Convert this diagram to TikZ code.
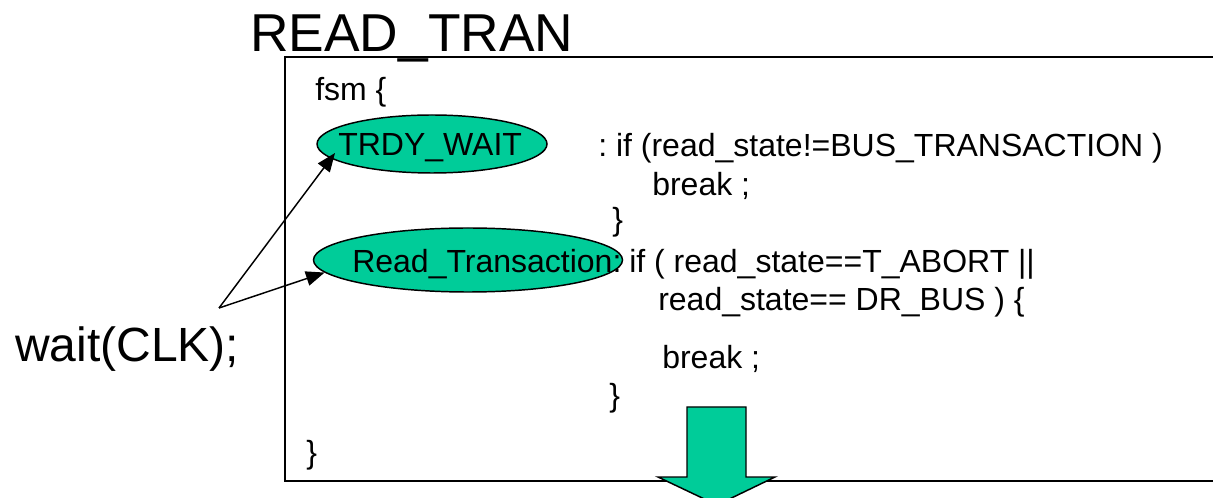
\documentclass[tikz,border=0pt]{standalone}
\usepackage{fontspec}
\setmainfont{Liberation Sans}
\usetikzlibrary{shapes.geometric,arrows.meta,calc}
\definecolor{stategreen}{RGB}{0,204,153}
\tikzset{
  code/.style={anchor=base west, inner sep=0pt, font=\fontsize{24}{28}\selectfont},
  state/.style={ellipse, draw=black, line width=1.1pt, fill=stategreen, inner sep=0pt,
                font=\fontsize{24}{28}\selectfont},
  pointer/.style={line width=1.1pt, -{Triangle[length=14pt,width=11pt]}},
  bigarrow/.style={draw=black, line width=1.1pt, fill=stategreen}
}
\frenchspacing
\begin{document}
\begin{tikzpicture}[x=0.75pt, y=-0.75pt]
  \useasboundingbox (0,0) rectangle (1213,498);
  \clip (0,0) rectangle (1213,498);

  % frame around the state machine body
  \draw[line width=1.2pt] (285,57) rectangle (1230,481);

  % heading
  \node[anchor=base west, inner sep=0pt, font=\fontsize{40}{46}\selectfont] (title) at (250,52) {READ\_TRAN};

  % fsm body text
  \node[code] (open)  at (315,101) {fsm \{};
  \node[code] (c1)    at (598,157) {: if (read\_state!=BUS\_TRANSACTION )};
  \node[code] (c2)    at (652,196) {break ;};
  \node[code] (c3)    at (612,231) {\}};
  \node[code] (c4)    at (629,273) {if ( read\_state==T\_ABORT ||};
  \node[code] (c5)    at (658,311) {read\_state== DR\_BUS ) \{};
  \node[code] (c6)    at (662,369) {break ;};
  \node[code] (c7)    at (609,407) {\}};
  \node[code] (close) at (306,464) {\}};

  % states
  \node[state, minimum width=172.5pt, minimum height=43.5pt] (trdy) at (432,144) {};
  \node[code] (trdylbl) at (338,156) {TRDY\_WAIT};
  \node[state, minimum width=231.75pt, minimum height=48pt] (rt) at (468,260) {};
  \node[code] (rtlbl) at (352,273) {Read\_Transaction:};

  % wait(CLK) annotation
  \node[anchor=base west, inner sep=0pt, font=\fontsize{36}{42}\selectfont] (wait) at (15,362) {wait(CLK);};
  \coordinate (fork) at (219,308);
  \draw[pointer] (fork) -- ($(trdy.center)+(-97,9)$);
  \draw[pointer] (fork) -- (rt.185);

  % block arrow leaving the frame
  \draw[bigarrow] (687,407) -- (746,407) -- (746,477) -- (775,477) -- (717,505)
                  -- (658,477) -- (687,477) -- cycle;
\end{tikzpicture}
\end{document}
